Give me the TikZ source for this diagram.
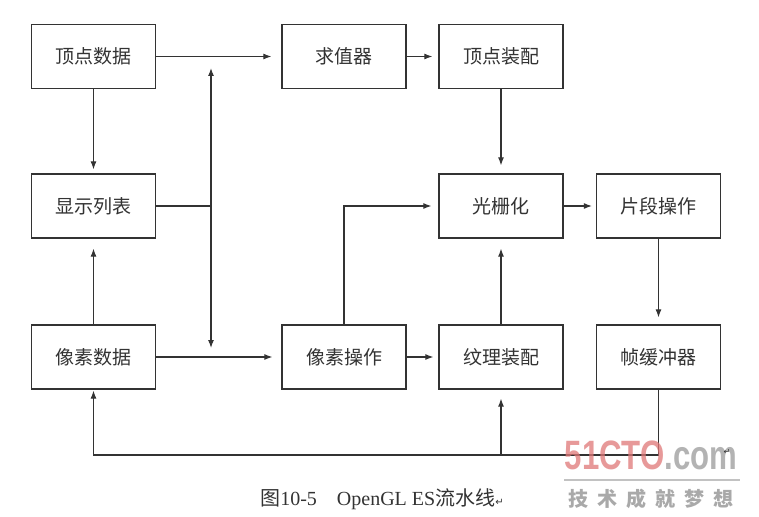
\documentclass[tikz,border=0pt]{standalone}
\usepackage{fontspec}
\setmainfont{Liberation Serif}
\newfontfamily\cjk{Noto Sans CJK SC}
\newfontfamily\wmfont{Liberation Sans}
\newfontfamily\symfont{DejaVu Sans}
\usetikzlibrary{arrows.meta}
\definecolor{ink}{HTML}{333333}
\definecolor{wmred}{HTML}{E07878}
\definecolor{wmgray}{HTML}{9A9A9A}
\begin{document}
\begin{tikzpicture}[x=1pt,y=-1pt,
  box/.style={draw=ink,line width=1.3pt,minimum width=124pt,minimum height=64pt,inner sep=0pt,font=\cjk\fontsize{19}{19}\selectfont,text=ink},
  conn/.style={draw=ink,line width=1.1pt},
  arr/.style={conn,-{Latex[length=8pt,width=6pt]}}]
\useasboundingbox (0,0) rectangle (759,516);
\fill[white] (0,0) rectangle (759,516);
% boxes
\node[box] (vd) at (93.5,56.5) {顶点数据};
\node[box] (qz) at (344,56.5) {求值器};
\node[box] (vz) at (501,56.5) {顶点装配};
\node[box] (xl) at (93.5,206) {显示列表};
\node[box] (gs) at (501,206) {光栅化};
\node[box] (pd) at (658.5,206) {片段操作};
\node[box] (xd) at (93.5,357) {像素数据};
\node[box] (xc) at (344,357) {像素操作};
\node[box] (wl) at (501,357) {纹理装配};
\node[box] (zh) at (658.5,357) {帧缓冲器};
% coordinates
\coordinate (J) at (211,206);
\coordinate (Jt) at (211,68);
\coordinate (Jb) at (211,348);
\coordinate (bl) at (93.5,455);
\coordinate (bm) at (501,455);
% connectors
\draw[arr,shorten >=10pt] (vd.east) -- (qz.west);
\draw[arr,shorten >=6pt] (qz.east) -- (vz.west);
\draw[arr,shorten >=4pt] (vd.south) -- (xl.north);
\draw[arr,shorten >=10pt] (xd.north) -- (xl.south);
\draw[conn] (xl.east) -- (J);
\draw[arr] (J) -- (Jt);
\draw[arr] (J) -- (Jb);
\draw[arr,shorten >=9pt] (xd.east) -- (xc.west);
\draw[arr,shorten >=5pt] (xc.east) -- (wl.west);
\draw[arr,shorten >=8pt] (vz.south) -- (gs.north);
\draw[arr,shorten >=7pt] (xc.north) |- (gs.west);
\draw[arr,shorten >=10pt] (wl.north) -- (gs.south);
\draw[arr,shorten >=4pt] (gs.east) -- (pd.west);
\draw[arr,shorten >=7pt] (pd.south) -- (zh.north);
\draw[arr,shorten >=1pt] (zh.south) |- (bl) -- (xd.south);
\draw[arr,shorten >=9pt] (bm) -- (wl.south);
% caption
\node[anchor=center,text=ink] (cap) at (382,499) {{\cjk\fontsize{20}{20}\selectfont 图}{\fontsize{20}{20}\selectfont 10-5\hspace{20pt}OpenGL ES}{\cjk\fontsize{20}{20}\selectfont 流水线}{\symfont\fontsize{10}{10}\selectfont ↵}};
% watermark
\node[anchor=center,inner sep=0pt,xscale=0.76,opacity=0.75] (wm) at (651,455)
  {\wmfont\bfseries\fontsize{41}{41}\selectfont\textcolor{wmred}{51CTO}\textcolor{wmgray}{.com}};
\draw[wmgray,line width=1.5pt,opacity=0.6] (564,480) -- (740,480);
\node[anchor=center,inner sep=0pt,text=wmgray,opacity=0.85] (wm2) at (651,499)
  {\cjk\bfseries\fontsize{20}{20}\selectfont 技\hspace{9pt}术\hspace{9pt}成\hspace{9pt}就\hspace{9pt}梦\hspace{9pt}想};
\node[inner sep=0pt,text=ink] (rt) at (727,452) {\symfont\fontsize{8}{8}\selectfont ↵};
\end{tikzpicture}
\end{document}
